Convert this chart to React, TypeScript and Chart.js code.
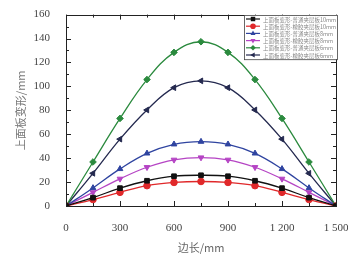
import React, { useEffect, useRef } from "react";
import { Chart, registerables } from "chart.js";
Chart.register(...registerables);

const edgeLength = [0, 150, 300, 450, 600, 750, 900, 1050, 1200, 1350, 1500];
const plain10 = [0, 7.0, 14.9, 21.1, 24.9, 25.7, 24.9, 21.1, 14.9, 7.0, 0];
const rubber10 = [0, 5.4, 11.4, 17.0, 19.7, 20.5, 19.7, 17.0, 11.4, 5.4, 0];
const plain8 = [0, 15.1, 31.0, 44.0, 51.6, 53.8, 51.6, 44.0, 31.0, 15.1, 0];
const rubber8 = [0, 11.4, 22.7, 32.4, 38.6, 40.5, 38.6, 32.4, 22.7, 11.4, 0];
const plain6 = [0, 36.8, 73.2, 105.7, 128.4, 137.3, 128.4, 105.7, 73.2, 36.8, 0];
const rubber6 = [0, 27.3, 55.9, 80.3, 98.9, 104.6, 98.9, 80.3, 55.9, 27.3, 0];
const seriesLabels = [
  "上面板变形-普通夹层板10mm",
  "上面板变形-橡胶夹层板10mm",
  "上面板变形-普通夹层板8mm",
  "上面板变形-橡胶夹层板8mm",
  "上面板变形-普通夹层板6mm",
  "上面板变形-橡胶夹层板6mm",
];
const xTickLabels: Record<number, string> = { 0: "0", 300: "300", 600: "600", 900: "900", 1200: "1 200", 1500: "1 500" };
const xTitle = "边长/mm";
const yTitle = "上面板变形/mm";

const serif = "'Liberation Serif', 'DejaVu Serif', serif";
const cjk = "'Noto Sans CJK SC', sans-serif";

function marker(ctx: CanvasRenderingContext2D, style: string, rot: number, r: number, x: number, y: number) {
  ctx.save();
  ctx.translate(x, y);
  ctx.rotate((rot * Math.PI) / 180);
  ctx.beginPath();
  if (style === "rect") {
    ctx.rect(-r * 0.8, -r * 0.8, r * 1.6, r * 1.6);
  } else if (style === "circle") {
    ctx.arc(0, 0, r, 0, Math.PI * 2);
  } else if (style === "rectRot") {
    ctx.moveTo(0, -r); ctx.lineTo(r, 0); ctx.lineTo(0, r); ctx.lineTo(-r, 0); ctx.closePath();
  } else {
    ctx.moveTo(0, -r); ctx.lineTo(r * 0.9, r * 0.6); ctx.lineTo(-r * 0.9, r * 0.6); ctx.closePath();
  }
  ctx.fill();
  ctx.restore();
}

const framePlugin = {
  id: "frame",
  afterDatasetsDraw(chart: any) {
    const { ctx, chartArea: a, scales } = chart;
    const xs = scales.x, ys = scales.y;
    ctx.save();
    ctx.strokeStyle = "#222";
    ctx.lineWidth = 1;
    ctx.strokeRect(Math.round(a.left) + 0.5, Math.round(a.top) + 0.5, Math.round(a.right - a.left), Math.round(a.bottom - a.top));
    ctx.beginPath();
    for (let v = 0; v <= 1500; v += 150) {
      const px = Math.round(xs.getPixelForValue(v)) + 0.5;
      const len = v % 300 === 0 ? 5 : 3;
      ctx.moveTo(px, a.bottom); ctx.lineTo(px, a.bottom - len);
      ctx.moveTo(px, a.top); ctx.lineTo(px, a.top + len);
    }
    for (let v = 0; v <= 160; v += 10) {
      const py = Math.round(ys.getPixelForValue(v)) + 0.5;
      const len = v % 20 === 0 ? 5 : 3;
      ctx.moveTo(a.left, py); ctx.lineTo(a.left + len, py);
      ctx.moveTo(a.right, py); ctx.lineTo(a.right - len, py);
    }
    ctx.stroke();
    ctx.restore();
  },
  afterDraw(chart: any) {
    const { ctx, chartArea: a } = chart;
    const w = 93, rowH = 7.2;
    const x0 = Math.round(a.right) - w + 1, y0 = Math.round(a.top);
    ctx.save();
    ctx.fillStyle = "#fff";
    ctx.fillRect(x0, y0, w, rowH * 6 + 1);
    ctx.strokeStyle = "#444";
    ctx.lineWidth = 0.8;
    ctx.strokeRect(x0 + 0.5, y0 + 0.5, w, rowH * 6 + 1);
    chart.data.datasets.forEach((ds: any, i: number) => {
      const cy = y0 + 4 + i * rowH;
      ctx.strokeStyle = ds.borderColor;
      ctx.lineWidth = 1.2;
      ctx.beginPath();
      ctx.moveTo(x0 + 2, cy); ctx.lineTo(x0 + 16, cy);
      ctx.stroke();
      ctx.fillStyle = ds.backgroundColor;
      marker(ctx, ds.pointStyle, ds.pointRotation || 0, 2.8, x0 + 9, cy);
      ctx.fillStyle = "#888";
      ctx.font = "5.5px " + cjk;
      ctx.textBaseline = "middle";
      ctx.fillText(ds.label, x0 + 19, cy + 0.5);
    });
    ctx.restore();
  },
};

export default function App() {
  const ref = useRef<HTMLCanvasElement>(null);
  useEffect(() => {
    document.body.style.margin = "0";
    const mk = (label: string, data: number[], color: string, style: string, rot = 0) => ({
      label,
      data: data.map((y, i) => ({ x: edgeLength[i], y })),
      borderColor: color,
      backgroundColor: color,
      pointStyle: style,
      pointRotation: rot,
      pointRadius: 3.3,
      pointBorderWidth: 1,
      borderWidth: 1.3,
      tension: 0.4,
    });
    const chart = new Chart(ref.current!, {
      type: "line",
      data: {
        datasets: [
          mk(seriesLabels[0], plain10, "#111111", "rect"),
          mk(seriesLabels[1], rubber10, "#e0282a", "circle"),
          mk(seriesLabels[2], plain8, "#2f44a0", "triangle"),
          mk(seriesLabels[3], rubber8, "#b544c4", "triangle", 180),
          mk(seriesLabels[4], plain6, "#2b8a3e", "rectRot"),
          mk(seriesLabels[5], rubber6, "#24294f", "triangle", 270),
        ] as any,
      },
      options: {
        animation: false,
        responsive: false,
        layout: { padding: { left: 10, right: 0, top: 12, bottom: 6 } },
        plugins: { legend: { display: false }, tooltip: { enabled: false } },
        scales: {
          x: {
            type: "linear",
            min: 0,
            max: 1500,
            grid: { display: false },
            border: { display: false },
            ticks: {
              stepSize: 150,
              autoSkip: false,
              maxRotation: 0,
              padding: 8,
              color: "#444",
              font: { family: serif, size: 11 },
              callback: (v: any) => (xTickLabels[v] !== undefined ? xTickLabels[v] : ""),
            },
            title: { display: true, text: xTitle, color: "#666", font: { family: cjk, size: 11 }, padding: { top: 4 } },
            afterFit: (s: any) => { s.height = 52; s.paddingRight = 12; },
          },
          y: {
            min: 0,
            max: 160,
            grid: { display: false },
            border: { display: false },
            ticks: {
              stepSize: 10,
              autoSkip: false,
              padding: 8,
              color: "#444",
              font: { family: serif, size: 11 },
              callback: (v: any) => (v % 20 === 0 ? String(v) : ""),
            },
            title: { display: true, text: yTitle, color: "#777", font: { family: cjk, size: 11 }, padding: { bottom: 4 } },
            afterFit: (s: any) => { s.width = 56; },
          },
        },
      },
      plugins: [framePlugin],
    });
    return () => chart.destroy();
  }, []);
  return <canvas ref={ref} width={348} height={264} style={{ display: "block" }} />;
}
